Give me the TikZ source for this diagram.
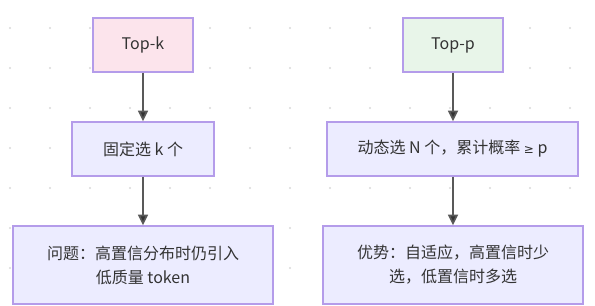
\documentclass[tikz,border=0pt]{standalone}
\usepackage{fontspec}
\setmainfont{Noto Sans CJK SC}
\newfontfamily\symf{DejaVu Sans}
\usetikzlibrary{arrows.meta}
\definecolor{boxfill}{HTML}{ECECFF}
\definecolor{boxline}{HTML}{B49CEA}
\definecolor{pinkfill}{HTML}{FCE4EC}
\definecolor{greenfill}{HTML}{E8F5E9}
\definecolor{txt}{HTML}{333333}
\definecolor{dotc}{HTML}{DADADA}
\begin{document}
\begin{tikzpicture}[x=0.75pt,y=-0.75pt,
  bx/.style={draw=boxline,line width=1.1pt,fill=boxfill,text=txt,font=\fontsize{12pt}{18pt}\selectfont,align=center,inner sep=0pt},
  arr/.style={draw=black!65,line width=1.3pt,-{Triangle[length=8pt,width=7.5pt,fill=black!80]}}]
\useasboundingbox (0,0) rectangle (595,306);
\fill[white] (0,0) rectangle (595,306);
\foreach \x in {10,50,...,570}
  \foreach \y in {28,68,...,268}
    \fill[dotc] (\x,\y) circle (0.9pt);
% left column
\node[bx,fill=pinkfill,minimum width=75pt,minimum height=40.5pt] (tk) at (143,45) {Top-k};
\node[bx,minimum width=106.5pt,minimum height=40.5pt] (fk) at (143,149) {固定选 k 个};
\node[bx,minimum width=195pt,minimum height=58.5pt] (pk) at (143,265) {问题：高置信分布时仍引入\\低质量 token};
% right column
\node[bx,fill=greenfill,minimum width=75pt,minimum height=40.5pt] (tp) at (453,45) {Top-p};
\node[bx,minimum width=188pt,minimum height=40.5pt] (dn) at (452.5,149) {动态选 N 个，累计概率 {\symf\fontsize{9pt}{9pt}\selectfont ≥} p};
\node[bx,minimum width=195pt,minimum height=58.5pt] (ad) at (453,265) {优势：自适应，高置信时少\\选，低置信时多选};
\draw[arr] (tk) -- (fk);
\draw[arr] (fk) -- (pk);
\draw[arr] (tp) -- (tp|-dn.north);
\draw[arr] (tp|-dn.south) -- (tp|-ad.north);
\end{tikzpicture}
\end{document}
